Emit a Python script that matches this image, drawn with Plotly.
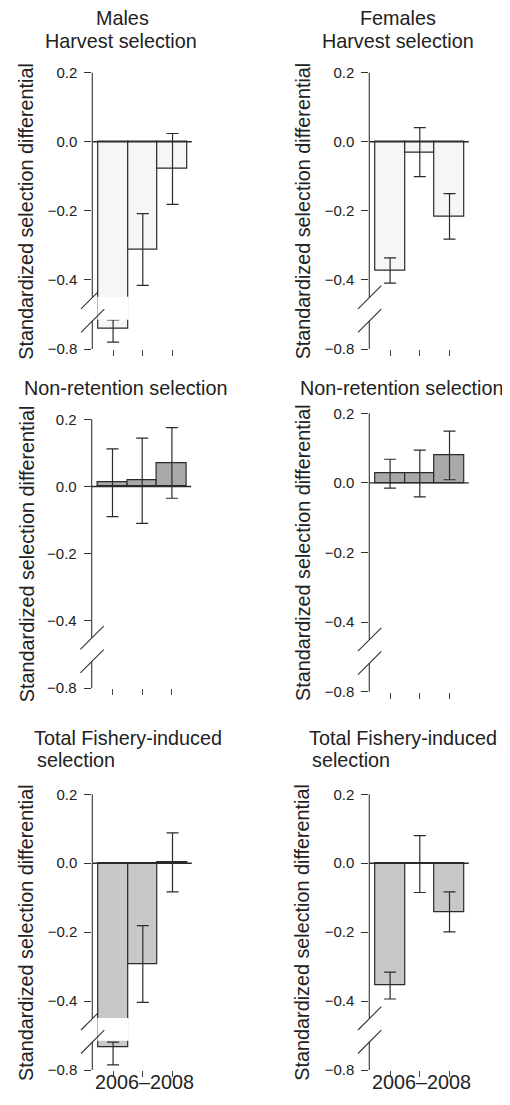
import plotly.graph_objects as go

# The page adds an 8px body margin round the figure, so the figure is
# made 16px smaller than the window and all pixel positions are shifted.
WIN_W, WIN_H = 510, 1105
OFF = 8
W, H = WIN_W - 2 * OFF, WIN_H - 2 * OFF

categories = [1, 2, 3]
y_tick_values = [0.2, 0.0, -0.2, -0.4, -0.8]
y_tick_labels = ["0.2", "0.0", "\u22120.2", "\u22120.4", "\u22120.8"]
x_axis_label = "2006\u20132008"
y_axis_title = "Standardized selection differential"

males_harvest = [-0.74, -0.312, -0.079]
males_harvest_hi = [-0.716, -0.208, 0.024]
males_harvest_lo = [-0.78, -0.416, -0.181]

females_harvest = [-0.373, -0.031, -0.217]
females_harvest_hi = [-0.336, 0.041, -0.150]
females_harvest_lo = [-0.409, -0.101, -0.282]

males_nonret = [0.011, 0.018, 0.070]
males_nonret_hi = [0.112, 0.144, 0.175]
males_nonret_lo = [-0.090, -0.110, -0.035]

females_nonret = [0.027, 0.028, 0.080]
females_nonret_hi = [0.068, 0.094, 0.149]
females_nonret_lo = [-0.015, -0.040, 0.009]

males_total = [-0.735, -0.292, 0.003]
males_total_hi = [-0.719, -0.181, 0.088]
males_total_lo = [-0.785, -0.404, -0.083]

females_total = [-0.355, -0.001, -0.141]
females_total_hi = [-0.316, 0.080, -0.083]
females_total_lo = [-0.394, -0.085, -0.199]

# ---------------- broken axis transform ----------------
BREAK = -0.5      # values below this are drawn in the compressed lower part
SHIFT = 0.2       # lower part shifted up by this amount
GAP_TOP, GAP_BOT = -0.449, -0.515   # display coordinates of the bar cut


def disp(v):
    return v + SHIFT if v < BREAK else v


Y_RANGE = [disp(-0.8), 0.2]
X_RANGE = [0.3, 3.7]

FONT = "Liberation Sans, Arial, Helvetica, sans-serif"
TXT = "#222222"
LINE = "#2b2b2b"

# panel geometry in window pixels: x_left, x_right, y_top, y_bottom
panels = [
    dict(vals=males_harvest, hi=males_harvest_hi, lo=males_harvest_lo, fill="#f6f6f6",
         px=(92.3, 193.3, 72.7, 349.0)),
    dict(vals=females_harvest, hi=females_harvest_hi, lo=females_harvest_lo, fill="#f6f6f6",
         px=(369.3, 470.3, 72.7, 349.0)),
    dict(vals=males_nonret, hi=males_nonret_hi, lo=males_nonret_lo, fill="#a9a9a9",
         px=(91.7, 192.7, 419.3, 688.0)),
    dict(vals=females_nonret, hi=females_nonret_hi, lo=females_nonret_lo, fill="#a9a9a9",
         px=(369.3, 470.3, 413.3, 691.7)),
    dict(vals=males_total, hi=males_total_hi, lo=males_total_lo, fill="#c8c8c8",
         px=(92.3, 193.3, 794.3, 1070.0)),
    dict(vals=females_total, hi=females_total_hi, lo=females_total_lo, fill="#c8c8c8",
         px=(369.3, 470.3, 794.3, 1070.0)),
]


def pxx(x):
    return (x - OFF) / W


def pxy(y):
    return 1 - (y - OFF) / H


fig = go.Figure()
shapes_below, shapes_above = [], []
layout_axes = {}

for k, p in enumerate(panels, start=1):
    xl, xr, yt, yb = p["px"]
    xa, ya = f"x{k}", f"y{k}"
    d_vals = [disp(v) for v in p["vals"]]
    up = [disp(h) - d for h, d in zip(p["hi"], d_vals)]
    dn = [d - disp(l) for l, d in zip(p["lo"], d_vals)]
    fig.add_trace(go.Bar(
        x=categories, y=d_vals, width=1, xaxis=xa, yaxis=ya,
        marker=dict(color=p["fill"], line=dict(color=LINE, width=1.2)),
        error_y=dict(type="data", symmetric=False, array=up, arrayminus=dn,
                     color=LINE, thickness=1.2, width=6),
        showlegend=False, hoverinfo="skip"))

    layout_axes[f"xaxis{k}"] = dict(
        domain=[pxx(xl), pxx(xr)], range=X_RANGE, anchor=ya, automargin=False,
        tickvals=categories, showticklabels=False, ticks="outside", ticklen=6,
        tickwidth=1, tickcolor="#444", showline=False, showgrid=False, zeroline=False,
        fixedrange=True)
    layout_axes[f"yaxis{k}"] = dict(
        domain=[pxy(yb), pxy(yt)], range=Y_RANGE, anchor=xa, automargin=False,
        tickvals=[disp(v) for v in y_tick_values], ticktext=y_tick_labels,
        ticks="outside", ticklen=7, tickwidth=1, tickcolor="#333",
        tickfont=dict(family=FONT, size=15, color=TXT), ticklabelstandoff=4,
        showline=False, showgrid=False, zeroline=False, fixedrange=True)

    def ypix(d, yt=yt, yb=yb):
        return yt + (Y_RANGE[1] - d) / (Y_RANGE[1] - Y_RANGE[0]) * (yb - yt)

    # zero line
    shapes_above.append(dict(type="line", xref=xa, yref=ya, x0=X_RANGE[0], x1=3.65,
                             y0=0, y1=0, line=dict(color=LINE, width=1.4), layer="above"))
    # white cut over bars crossing the break
    for c, d in zip(categories, d_vals):
        if d < GAP_TOP:
            shapes_above.append(dict(type="rect", xref=xa, yref=ya, x0=c - 0.53, x1=c + 0.53,
                                     y0=GAP_BOT, y1=GAP_TOP, fillcolor="white",
                                     line=dict(width=0), layer="above"))
    # broken y-axis line and slashes
    c1 = ypix(-0.45)
    c2 = c1 + 23.5
    shapes_above.append(dict(type="line", xref="paper", yref="paper",
                             x0=pxx(xl), x1=pxx(xl), y0=pxy(yt), y1=pxy(c1),
                             line=dict(color="#333", width=1.1)))
    shapes_above.append(dict(type="line", xref="paper", yref="paper",
                             x0=pxx(xl), x1=pxx(xl), y0=pxy(c2), y1=pxy(yb),
                             line=dict(color="#333", width=1.1)))
    shapes_below.append(dict(type="line", xref="paper", yref="paper", layer="below",
                             x0=pxx(xl - 11.3), y0=pxy(c1 + 11.7),
                             x1=pxx(xl + 12.0), y1=pxy(c1 - 11.6),
                             line=dict(color="#333", width=1.1)))
    shapes_above.append(dict(type="line", xref="paper", yref="paper", layer="above",
                             x0=pxx(xl - 11.3), y0=pxy(c2 + 11.7),
                             x1=pxx(xl + 12.0), y1=pxy(c2 - 11.6),
                             line=dict(color="#333", width=1.1)))

TS = 19.8
annotations = []


def note(text, x, y, xanchor="center", angle=0, size=TS):
    annotations.append(dict(text=text, x=pxx(x), y=pxy(y), xref="paper", yref="paper",
                            xanchor=xanchor, yanchor="middle", showarrow=False,
                            textangle=angle, font=dict(family=FONT, size=size, color=TXT)))


note("Males", 122.5, 18.3)
note("Harvest selection", 121, 41.5)
note("Females", 398, 18.3)
note("Harvest selection", 397.5, 41.5)
note("Non-retention selection", 125, 388)
note("Non-retention selection", 401.7, 388)
note("Total Fishery-induced", 31.7, 738, xanchor="left")
note("selection", 35, 759.6, xanchor="left")
note("Total Fishery-induced", 306.7, 738, xanchor="left")
note("selection", 310, 759.6, xanchor="left")
note(x_axis_label, 144, 1081.5)
note(x_axis_label, 421, 1081.5)

for p, xt in zip(panels, [25.8, 302.5, 26.5, 302.5, 25.8, 302.5]):
    xl, xr, yt, yb = p["px"]
    note(y_axis_title, xt, (yt + yb) / 2, angle=-90)

fig.update_layout(
    width=W, height=H, autosize=False,
    margin=dict(l=0, r=0, t=0, b=0, pad=0),
    paper_bgcolor="white", plot_bgcolor="rgba(0,0,0,0)",
    bargap=0, showlegend=False,
    shapes=shapes_below + shapes_above,
    annotations=annotations,
    **layout_axes,
)

fig.write_html("out.html", config={"displayModeBar": False})
